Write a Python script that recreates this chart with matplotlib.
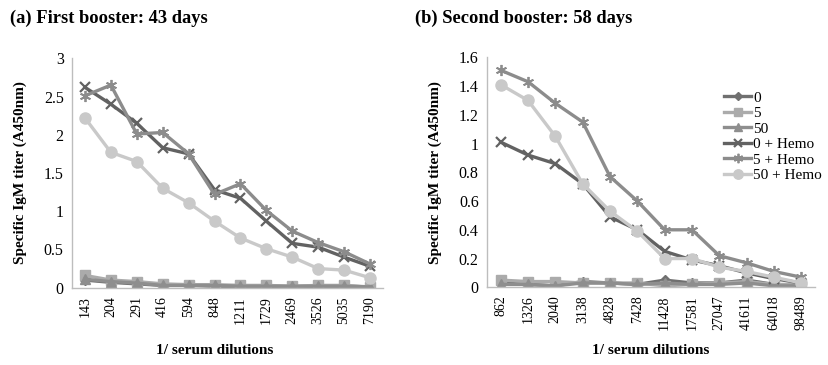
import matplotlib
matplotlib.use("Agg")
import matplotlib.pyplot as plt
from matplotlib.lines import Line2D

plt.rcParams['font.family'] = ['Liberation Serif', 'DejaVu Serif']

dil_a = ["143", "204", "291", "416", "594", "848", "1211", "1729", "2469", "3526", "5035", "7190"]
dil_b = ["862", "1326", "2040", "3138", "4828", "7428", "11428", "17581", "27047", "41611", "64018", "98489"]

series_names = ["0", "5", "50", "0 + Hemo", "5 + Hemo", "50 + Hemo"]

a_0 = [0.10, 0.07, 0.05, 0.03, 0.03, 0.02, 0.02, 0.02, 0.01, 0.02, 0.02, 0.01]
a_5 = [0.16, 0.10, 0.08, 0.05, 0.04, 0.04, 0.03, 0.03, 0.02, 0.03, 0.03, 0.01]
a_50 = [0.11, 0.08, 0.06, 0.03, 0.03, 0.03, 0.02, 0.02, 0.02, 0.02, 0.02, 0.01]
a_0h = [2.62, 2.40, 2.15, 1.83, 1.75, 1.28, 1.17, 0.87, 0.58, 0.53, 0.40, 0.28]
a_5h = [2.51, 2.65, 2.01, 2.03, 1.75, 1.22, 1.36, 1.01, 0.74, 0.59, 0.47, 0.31]
a_50h = [2.22, 1.77, 1.65, 1.30, 1.11, 0.87, 0.65, 0.51, 0.40, 0.25, 0.23, 0.13]

b_0 = [0.03, 0.02, 0.01, 0.04, 0.03, 0.02, 0.05, 0.03, 0.03, 0.05, 0.02, 0.01]
b_5 = [0.05, 0.04, 0.04, 0.03, 0.03, 0.03, 0.01, 0.02, 0.03, 0.04, 0.02, 0.02]
b_50 = [0.02, 0.02, 0.01, 0.03, 0.03, 0.02, 0.03, 0.02, 0.02, 0.03, 0.01, 0.01]
b_0h = [1.01, 0.92, 0.86, 0.72, 0.49, 0.40, 0.25, 0.19, 0.15, 0.10, 0.06, 0.03]
b_5h = [1.51, 1.43, 1.28, 1.15, 0.77, 0.60, 0.40, 0.40, 0.22, 0.17, 0.11, 0.07]
b_50h = [1.41, 1.30, 1.05, 0.72, 0.53, 0.39, 0.20, 0.20, 0.14, 0.11, 0.07, 0.03]

styles = [
    dict(color="#707070", marker="D", ms=5),
    dict(color="#ababab", marker="s", ms=7),
    dict(color="#8e8e8e", marker="^", ms=7),
    dict(color="#626262", marker="x", ms=7, mew=1.6),
    dict(color="#8c8c8c", marker=(6, 2, 0), ms=8, mew=1.3),
    dict(color="#c9c9c9", marker="o", ms=8),
]

W, H = 829, 365
fig = plt.figure(figsize=(W / 100, H / 100), dpi=100)

def add_ax(x0, x1, y_top, y_bot):
    return fig.add_axes([x0 / W, 1 - y_bot / H, (x1 - x0) / W, (y_bot - y_top) / H])

ax1 = add_ax(72, 383, 58.3, 287.7)
ax2 = add_ax(487, 815, 57.3, 287.3)

def draw(ax, cats, data, ymax, ystep, yticklabels):
    x = list(range(len(cats)))
    for vals, st in zip(data, styles):
        ax.plot(x, vals, lw=2.4, color=st["color"], marker=st["marker"],
                ms=st["ms"], mew=st.get("mew", 1), mec=st["color"], mfc=st["color"])
    ax.set_xlim(-0.5, len(cats) - 0.5)
    ax.set_ylim(0, ymax)
    ticks = [i * ystep for i in range(len(yticklabels))]
    ax.set_yticks(ticks)
    ax.set_yticklabels(yticklabels, fontsize=11.5)
    ax.set_xticks(x)
    ax.set_xticklabels(cats, rotation=90, fontsize=10)
    for s in ["top", "right"]:
        ax.spines[s].set_visible(False)
    for s in ["left", "bottom"]:
        ax.spines[s].set_color("#bdbdbd")
        ax.spines[s].set_linewidth(1)
    ax.tick_params(length=0, pad=6)
    ax.set_ylabel("Specific IgM titer (A450nm)", fontsize=11, fontweight="bold", labelpad=12)
    ax.set_xlabel("1/ serum dilutions", fontsize=11, fontweight="bold", labelpad=10)

draw(ax1, dil_a, [a_0, a_5, a_50, a_0h, a_5h, a_50h], 3, 0.5,
     ["0", "0.5", "1", "1.5", "2", "2.5", "3"])
draw(ax2, dil_b, [b_0, b_5, b_50, b_0h, b_5h, b_50h], 1.6, 0.2,
     ["0", "0.2", "0.4", "0.6", "0.8", "1", "1.2", "1.4", "1.6"])
ax1.xaxis.set_label_coords(0.46, -0.245)
ax2.xaxis.set_label_coords(0.5, -0.245)

fig.text(10 / W, 1 - 18 / H, "(a) First booster: 43 days", fontsize=13.3, fontweight="bold", va="center")
fig.text(415 / W, 1 - 18 / H, "(b) Second booster: 58 days", fontsize=13.3, fontweight="bold", va="center")

handles = [Line2D([], [], lw=2.4, color=st["color"], marker=st["marker"], ms=st["ms"] * 0.85,
                  mew=st.get("mew", 1), mec=st["color"], mfc=st["color"]) for st in styles]
fig.legend(handles, series_names, loc="upper left", bbox_to_anchor=(724 / W, 1 - 91 / H),
           frameon=False, fontsize=11, handlelength=1.8, handletextpad=0.1,
           labelspacing=0.12, borderpad=0, borderaxespad=0)

fig.savefig("out.png", dpi=100)
